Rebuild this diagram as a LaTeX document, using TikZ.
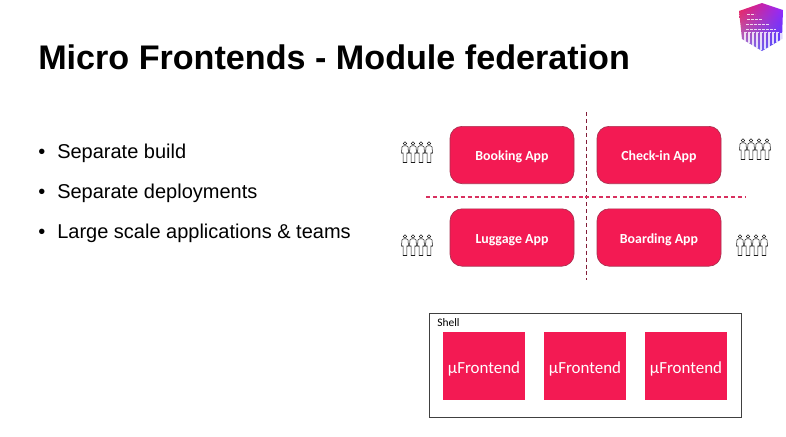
\documentclass[tikz,border=0pt]{standalone}
\usepackage{fontspec}
\setmainfont{Liberation Sans}
\newfontfamily\calibri{Carlito}
\usetikzlibrary{positioning,shadings}
\definecolor{crimson}{HTML}{F31A53}
\definecolor{crimsonedge}{HTML}{A8304F}
\definecolor{dashpink}{HTML}{D8305F}
\tikzset{
  px/.style={x=0.75pt,y=-0.75pt},
  appbox/.style={draw=crimsonedge,fill=crimson,rounded corners=9pt,line width=0.5pt,
    minimum width=93pt,minimum height=43pt,inner sep=0pt,text=white,text depth=0pt,text height=8.5pt,
    font=\calibri\bfseries\fontsize{10.4}{12}\selectfont},
  frontbox/.style={fill=crimson,minimum width=61.5pt,minimum height=51pt,inner sep=0pt,
    text=white,text depth=0pt,text height=11pt,font=\calibri\fontsize{12.7}{15}\selectfont},
  shellbox/.style={draw=black!75,line width=0.75pt,fill=white,minimum width=234pt,minimum height=78pt,inner sep=0pt},
  divider/.style={draw=dashpink,line width=0.8pt,dash pattern=on 3pt off 2.2pt},
  bullet/.style={anchor=base west,inner sep=0pt,font=\fontsize{15}{18}\selectfont},
  person/.style={draw=black!90,line width=0.4pt,fill=white},
  crew/.pic={
    \foreach \i in {0,1,2,3}{
      \begin{scope}[shift={(\i*8,0)}]
        \draw[person] (0,-9.5) circle (1.7);
        \draw[person] (-3.5,0) -- (-3,-6) -- (-1.5,-7.2) -- (1.5,-7.2) -- (3,-6) -- (3.5,0) -- (2,0) -- (1.8,9.5) -- (-1.8,9.5) -- (-2,0) -- cycle;
      \end{scope}
    }
  }
}
\begin{document}
\begin{tikzpicture}[px]
  \useasboundingbox (0,0) rectangle (786,436);
  \node[anchor=base west,inner sep=0pt,font=\bfseries\fontsize{25.6}{30}\selectfont] (title) at (38,69) {Micro Frontends - Module federation};
  % bullets
  \node[bullet] (b1) at (38,158) {\textbullet};
  \node[bullet] (b2) at (38,198) {\textbullet};
  \node[bullet] (b3) at (38,238) {\textbullet};
  \node[bullet] (t1) at (57,158) {Separate build};
  \node[bullet] (t2) at (57,198) {Separate deployments};
  \node[bullet] (t3) at (57,238) {Large scale applications \& teams};
  % apps
  \node[appbox] (booking) at (512,155) {Booking App};
  \node[appbox] (checkin) at (659,155) {Check-in App};
  \node[appbox] (luggage) at (512,237.5) {Luggage App};
  \node[appbox] (boarding) at (659,237.5) {Boarding App};
  \coordinate (vtop) at (586,112);
  \coordinate (vbot) at (586,280);
  \coordinate (hleft) at (426,197);
  \coordinate (hright) at (746,197);
  \draw[divider,draw=black!40!dashpink,line width=0.55pt] (vtop) -- (vbot);
  \draw[divider] (hleft) -- (hright);
  % teams
  \pic at (405,153) {crew};
  \pic at (743,150) {crew};
  \pic at (405,246) {crew};
  \pic at (740,246) {crew};
  % shell
  \node[shellbox] (shell) at (585,365) {};
  \node[anchor=base west,inner sep=0pt,font=\calibri\fontsize{8.6}{10}\selectfont] (shelllabel) at (437,326) {Shell};
  \node[frontbox] (front1) at (484,366) {µFrontend};
  \node[frontbox] (front2) at (585,366) {µFrontend};
  \node[frontbox] (front3) at (686,366) {µFrontend};
  % logo
  \shade[upper left=crimson,upper right=blue!45!magenta!85!white,lower left=violet!45!blue!50!white,lower right=blue!75!white]
    (762,3) -- (783,10) -- (782,39) -- (762,51) -- (742,39) -- (739,11) -- cycle;
  \foreach \x in {745,749,...,781}
    \draw[white,opacity=.8,line width=1.2pt] (\x,33) -- (\x,{\x<762 ? 33+(\x-742)*0.6+6 : 33+(782-\x)*0.6+6});
  \foreach \y/\a/\b in {14/747/755,19/747/762,24/746/770,29/746/776,32/744/780}
    \draw[white,opacity=.8,line width=0.7pt,dash pattern=on 2pt off 1pt] (\a,\y) -- (\b,\y);
\end{tikzpicture}
\end{document}
